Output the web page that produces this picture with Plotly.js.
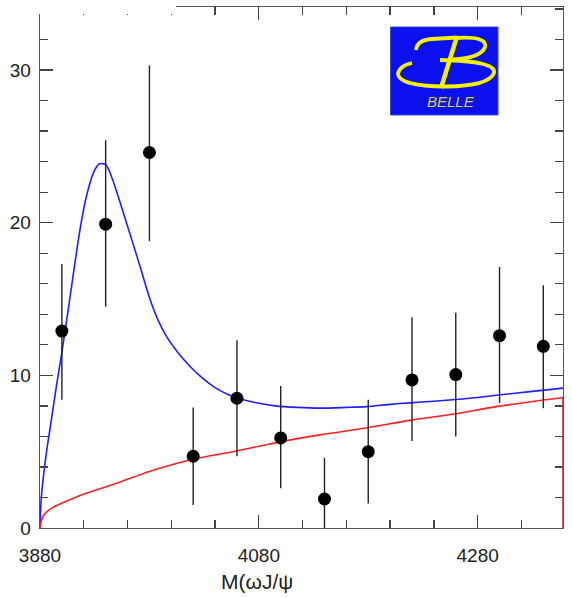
<!DOCTYPE html>
<html>
<head>
<meta charset="utf-8">
<script src="https://cdn.plot.ly/plotly-3.0.1.min.js"></script>
<style>html,body{margin:0;padding:0;background:#fff;}#chart{width:572px;height:598px;}</style>
</head>
<body>
<div id="chart"></div>
<script>
// Data points (M(ωJ/ψ) bins, events)
var massBins = [3900, 3940, 3980, 4020, 4060, 4100, 4140, 4180, 4220, 4260, 4300, 4340];
var events   = [12.9, 19.9, 24.6, 4.7, 8.5, 5.9, 1.9, 5.0, 9.7, 10.05, 12.6, 11.9];
var errUp    = [4.4, 5.5, 5.7, 3.2, 3.8, 3.4, 2.7, 3.4, 4.1, 4.05, 4.5, 4.0];
var errDown  = [4.5, 5.4, 5.8, 3.2, 3.8, 3.3, 1.9, 3.4, 4.0, 4.05, 4.4, 4.05];

// Total fit (blue)
var fitX = [3880, 3881, 3883, 3886, 3890, 3895, 3900, 3907, 3916, 3922, 3929, 3934, 3940, 3946, 3952, 3959, 3966, 3972, 3980, 3988, 3996, 4006, 4017, 4028, 4040, 4052, 4065, 4080, 4095, 4115, 4136, 4160, 4178, 4200, 4218, 4240, 4257, 4280, 4297, 4330, 4358];
var fitY = [0, 1.8, 3.3, 5.0, 6.9, 9.3, 11.5, 14.9, 19.3, 21.6, 23.3, 23.85, 23.8, 22.9, 21.6, 20.0, 18.4, 17.0, 15.1, 13.6, 12.5, 11.5, 10.6, 9.85, 9.2, 8.75, 8.42, 8.17, 8.0, 7.9, 7.85, 7.9, 7.95, 8.1, 8.2, 8.3, 8.4, 8.55, 8.7, 8.95, 9.16];

// Background (red)
var bkgX = [3880, 3881, 3883, 3887, 3892, 3904, 3922, 3950, 3980, 4017, 4056, 4090, 4100, 4136, 4178, 4218, 4257, 4297, 4358];
var bkgY = [0, 0.4, 0.8, 1.1, 1.35, 1.75, 2.27, 2.93, 3.7, 4.45, 5.0, 5.5, 5.65, 6.1, 6.55, 7.05, 7.45, 7.95, 8.55];

var xRange = [3880, 4358];
var yRange = [0, 34.13];
var xTicks = [3880, 4080, 4280];
var yTicks = [0, 10, 20, 30];

// pixel -> paper helpers for decoration (plot area 40..563 x 7..528)
function px(x){ return (x - 40) / 523; }
function py(y){ return (528 - y) / 521; }
function P(x, y){ return px(x) + ',' + py(y); }

var traces = [
  {x: fitX, y: fitY, mode: 'lines', line: {color: '#1f1fff', width: 1.6, shape: 'spline', smoothing: 0.8}, hoverinfo: 'skip'},
  {x: bkgX, y: bkgY, mode: 'lines', line: {color: '#ff1f1f', width: 1.6, shape: 'spline', smoothing: 0.8}, hoverinfo: 'skip'},
  {x: massBins, y: events, mode: 'markers', type: 'scatter',
   marker: {color: '#000', size: 13},
   error_y: {type: 'data', symmetric: false, array: errUp, arrayminus: errDown, color: '#222', thickness: 1.4, width: 0}}
];

var axisFont = {family: 'Liberation Sans, Arial, sans-serif', size: 19, color: '#222'};
var yellow = '#f2f200';

var layout = {
  width: 572, height: 598,
  margin: {l: 40, r: 9, t: 7, b: 70},
  paper_bgcolor: '#fff', plot_bgcolor: '#fff',
  showlegend: false,
  xaxis: {
    range: xRange, tickmode: 'array', tickvals: xTicks, ticktext: xTicks.map(String),
    ticks: 'inside', ticklen: 13, tickwidth: 1.3, tickcolor: '#444',
    minor: {tickmode: 'linear', tick0: 3880, dtick: 40, ticks: 'inside', ticklen: 8, tickwidth: 1.3, tickcolor: '#444', showgrid: false},
    showline: true, linecolor: '#555', linewidth: 1.4, mirror: 'allticks',
    showgrid: false, zeroline: false, tickfont: axisFont, ticklabelstandoff: 10
  },
  yaxis: {
    range: yRange, tickmode: 'array', tickvals: yTicks, ticktext: yTicks.map(String),
    ticks: 'inside', ticklen: 13, tickwidth: 1.3, tickcolor: '#444',
    minor: {tickmode: 'linear', tick0: 0, dtick: 2, ticks: 'inside', ticklen: 8, tickwidth: 1.3, tickcolor: '#444', showgrid: false},
    showline: true, linecolor: '#555', linewidth: 1.4, mirror: 'allticks',
    showgrid: false, zeroline: false, tickfont: axisFont, ticklabelstandoff: 4
  },
  shapes: [
    // hide top-left part of the frame
    {type: 'rect', xref: 'paper', yref: 'paper', x0: px(0), x1: px(176), y0: py(14), y1: py(0), fillcolor: '#fff', line: {width: 0}, layer: 'above'},
    // red segment on right edge
    {type: 'line', xref: 'x', yref: 'y', x0: xRange[1], x1: xRange[1], y0: 0, y1: bkgY[bkgY.length-1], line: {color: '#d02040', width: 1.6}, layer: 'above'},
    // Belle logo
    {type: 'rect', xref: 'paper', yref: 'paper', x0: px(390.5), x1: px(498), y0: py(115), y1: py(27), fillcolor: '#0a10ee', line: {color: '#3a48d8', width: 1}, layer: 'above'},
    // lower big loop (open at upper-left)
    {type: 'path', xref: 'paper', yref: 'paper', layer: 'above',
     path: 'M ' + P(440, 60) + ' Q ' + P(497, 61) + ' ' + P(494, 73) + ' Q ' + P(489, 86) + ' ' + P(446, 86.5) +
           ' Q ' + P(399, 86) + ' ' + P(398, 74) + ' Q ' + P(399, 66) + ' ' + P(412, 63),
     line: {color: yellow, width: 3.8}},
    // stem
    {type: 'line', xref: 'paper', yref: 'paper', x0: px(456.5), x1: px(441), y0: py(38), y1: py(88), line: {color: yellow, width: 4.5}, layer: 'above'},
    // top hook
    {type: 'path', xref: 'paper', yref: 'paper', layer: 'above',
     path: 'M ' + P(416, 50) + ' Q ' + P(417, 40) + ' ' + P(432, 39) + ' L ' + P(457, 37.5),
     line: {color: yellow, width: 3.8}},
    // top bowl
    {type: 'path', xref: 'paper', yref: 'paper', layer: 'above',
     path: 'M ' + P(456, 38) + ' Q ' + P(488, 36) + ' ' + P(485, 47) + ' Q ' + P(481, 58) + ' ' + P(453, 59.5),
     line: {color: yellow, width: 3.8}}
  ],
  annotations: [
    {xref: 'paper', yref: 'paper', x: px(451), y: py(101.5), text: '<i>BELLE</i>', showarrow: false,
     font: {family: 'Liberation Sans, Arial, sans-serif', size: 15, color: '#d8d030'}, xanchor: 'center', yanchor: 'middle'},
    {xref: 'paper', yref: 'paper', x: px(219), y: py(581), text: 'M(ωJ/ψ', showarrow: false,
     font: {family: 'Liberation Sans, Arial, sans-serif', size: 21, color: '#222'}, xanchor: 'left', yanchor: 'middle'}
  ]
};

Plotly.newPlot('chart', traces, layout, {displayModeBar: false, staticPlot: true});
</script>
</body>
</html>
